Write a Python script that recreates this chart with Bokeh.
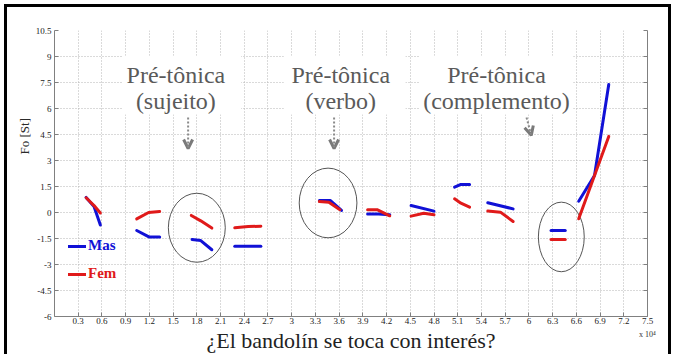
import math
from bokeh.plotting import figure
from bokeh.models import (Range1d, LinearAxis, FixedTicker, Legend, LegendItem,
                          Arrow, OpenHead, ColumnDataSource, Title)
from bokeh.core.properties import value
from bokeh.embed import file_html
from bokeh.resources import INLINE

# ---------------- data ----------------
x_ticks = [0.3, 0.6, 0.9, 1.2, 1.5, 1.8, 2.1, 2.4, 2.7, 3.0, 3.3, 3.6, 3.9, 4.2,
           4.5, 4.8, 5.1, 5.4, 5.7, 6.0, 6.3, 6.6, 6.9, 7.2, 7.5]
x_tick_labels = ["0.3", "0.6", "0.9", "1.2", "1.5", "1.8", "2.1", "2.4", "2.7", "3",
                 "3.3", "3.6", "3.9", "4.2", "4.5", "4.8", "5.1", "5.4", "5.7", "6",
                 "6.3", "6.6", "6.9", "7.2", "7.5"]
y_ticks = [-6, -4.5, -3, -1.5, 0, 1.5, 3, 4.5, 6, 7.5, 9, 10.5]
y_tick_labels = ["-6", "-4.5", "-3", "-1.5", "0", "1.5", "3", "4.5", "6", "7.5", "9", "10.5"]

# Mas (blue) contour segments
mas_x = [[0.40, 0.50, 0.58],
         [1.04, 1.20, 1.33],
         [1.74, 1.85, 1.99],
         [2.28, 2.61],
         [3.35, 3.49, 3.63],
         [3.96, 4.10, 4.24],
         [4.51, 4.80],
         [5.06, 5.14, 5.25],
         [5.48, 5.80],
         [6.28, 6.46],
         [6.63, 6.83, 7.01]]
mas_y = [[0.87, 0.35, -0.72],
         [-1.04, -1.42, -1.42],
         [-1.56, -1.62, -2.15],
         [-1.94, -1.94],
         [0.69, 0.69, 0.12],
         [-0.08, -0.08, -0.13],
         [0.40, 0.08],
         [1.46, 1.62, 1.62],
         [0.56, 0.21],
         [-1.04, -1.04],
         [0.65, 2.13, 7.39]]

# Fem (red) contour segments
fem_x = [[0.40, 0.50, 0.58],
         [1.04, 1.19, 1.33],
         [1.73, 1.85, 1.99],
         [2.28, 2.45, 2.61],
         [3.35, 3.47, 3.61],
         [3.96, 4.08, 4.24],
         [4.51, 4.67, 4.80],
         [5.06, 5.14, 5.25],
         [5.48, 5.64, 5.80],
         [6.28, 6.46],
         [6.63, 7.01]]
fem_y = [[0.85, 0.40, -0.03],
         [-0.37, 0.00, 0.06],
         [-0.17, -0.48, -0.90],
         [-0.88, -0.81, -0.79],
         [0.63, 0.59, 0.16],
         [0.16, 0.16, -0.19],
         [-0.21, -0.04, -0.13],
         [0.79, 0.54, 0.31],
         [0.08, 0.02, -0.52],
         [-1.56, -1.56],
         [-0.36, 4.39]]

# highlight ellipses
ell_x = [1.80, 3.46, 6.41]
ell_y = [-0.88, 0.55, -1.41]
ell_w = [0.72, 0.73, 0.58]
ell_h = [3.98, 4.02, 4.02]

# annotations
anno_line1 = ["Pré-tônica", "Pré-tônica", "Pré-tônica"]
anno_line2 = ["(sujeito)", "(verbo)", "(complemento)"]
anno_x = [1.535, 3.62, 5.59]
anno_y1 = [7.91, 7.91, 7.91]
anno_y2 = [6.44, 6.44, 6.44]
box_left = [0.86, 2.90, 4.61]
box_right = [2.36, 4.44, 6.56]
box_bottom = [5.65, 5.65, 5.65]
box_top = [9.05, 9.05, 9.05]

arrow_x0 = [1.69, 3.536, 5.97]
arrow_y0 = [5.48, 5.48, 5.48]
arrow_x1 = [1.69, 3.536, 6.03]
arrow_y1 = [3.69, 3.69, 4.45]

x_title = "¿El bandolín se toca con interés?"
y_title = "Fo [St]"
x_scale_text = "x 10\u2074"

BLUE = "#1111d6"
RED = "#e01a1a"
SERIF = "Liberation Serif"

p = figure(width=674, height=354, output_backend="svg", toolbar_location=None,
           x_range=Range1d(0, 7.5), y_range=Range1d(-6, 10.5),
           min_border_left=54, min_border_right=27, min_border_top=30,
           min_border_bottom=38)
p.styles = {
    "background": ("linear-gradient(#000,#000) 4px 4px / 667px 3px no-repeat, "
                   "linear-gradient(#000,#000) 4px 4px / 3px 350px no-repeat, "
                   "linear-gradient(#000,#000) 668px 4px / 3px 350px no-repeat, #ffffff"),
}
p.outline_line_color = None
p.background_fill_color = "white"
p.border_fill_color = None

# axes
for ax, ticks, labels in ((p.xaxis[0], x_ticks, x_tick_labels),
                          (p.yaxis[0], y_ticks, y_tick_labels)):
    ax.ticker = FixedTicker(ticks=ticks)
    ax.major_label_overrides = dict(zip(ticks, labels))
    ax.major_label_text_font = SERIF
    ax.major_label_text_font_size = "9px"
    ax.major_label_text_color = "#222222"
    ax.major_tick_in = 4
    ax.major_tick_out = 0
    ax.minor_tick_line_color = None
    ax.axis_line_color = "#808080"
    ax.major_tick_line_color = "#808080"
    ax.major_label_standoff = 3

xa = p.xaxis[0]
xa.major_label_standoff = 1
xa.axis_label = x_scale_text
xa.axis_label_align = "end"
xa.axis_label_text_font = SERIF
xa.axis_label_text_font_style = "normal"
xa.axis_label_text_font_size = "8px"
xa.axis_label_text_color = "#333333"
xa.axis_label_standoff = 3
p.add_layout(Title(text=x_title, align="center", vertical_align="top", standoff=-27,
                   text_font=SERIF, text_font_style="normal", text_font_size="22px",
                   text_color="#222222"), "below")

ra = LinearAxis(ticker=FixedTicker(ticks=y_ticks), major_label_text_font_size="1px",
                major_label_text_color=None,
                major_tick_in=4, major_tick_out=0, minor_tick_line_color=None,
                axis_line_color="#808080", major_tick_line_color="#808080",
                major_label_standoff=0)
p.add_layout(ra, "right")

p.add_layout(Title(text=y_title, align="left", offset=162, standoff=0,
                   vertical_align="middle", text_font=SERIF, text_font_style="normal",
                   text_font_size="13px", text_color="#2a2a2a"), "left")

p.xgrid.ticker = FixedTicker(ticks=x_ticks)
p.ygrid.ticker = FixedTicker(ticks=y_ticks)
for g in (p.xgrid[0], p.ygrid[0]):
    g.grid_line_color = "#b4b4b4"
    g.grid_line_dash = "1 2"
    g.grid_line_width = 1

# white boxes behind annotation texts
p.quad(left=box_left, right=box_right, bottom=box_bottom, top=box_top,
       fill_color="white", line_color=None)

p.text(x=anno_x, y=anno_y1, text=anno_line1, text_font=value(SERIF),
       text_font_size="24px", text_color="#5a5a5a", text_align="center",
       text_baseline="alphabetic")
p.text(x=anno_x, y=anno_y2, text=anno_line2, text_font=value(SERIF),
       text_font_size="24px", text_color="#5a5a5a", text_align="center",
       text_baseline="alphabetic")

asrc = ColumnDataSource(dict(x0=arrow_x0, y0=arrow_y0, x1=arrow_x1, y1=arrow_y1))
p.add_layout(Arrow(x_start="x0", y_start="y0", x_end="x1", y_end="y1", source=asrc,
                   line_color="#8a8a8a", line_width=2, line_dash="2 2",
                   end=OpenHead(size=9, line_width=3, line_color="#7a7a7a")))

p.ellipse(x=ell_x, y=ell_y, width=ell_w, height=ell_h, fill_color=None,
          line_color="#555555", line_width=1)

mas_r = p.multi_line(xs=mas_x, ys=mas_y, line_color=BLUE, line_width=3, line_cap="round")
fem_r = p.multi_line(xs=fem_x, ys=fem_y, line_color=RED, line_width=3, line_cap="round")

for label, rend, color, loc in (("Mas", mas_r, BLUE, (14, 62)), ("Fem", fem_r, RED, (14, 34))):
    lg = Legend(items=[LegendItem(label=label, renderers=[rend])], location=loc,
                padding=0, margin=0, spacing=0, label_standoff=2,
                glyph_width=18, glyph_height=14, label_height=14,
                border_line_color=None, background_fill_alpha=0,
                label_text_font=SERIF, label_text_font_style="bold",
                label_text_font_size="15px", label_text_color=color)
    p.add_layout(lg)

open("out.html", "w").write(file_html(p, INLINE))
